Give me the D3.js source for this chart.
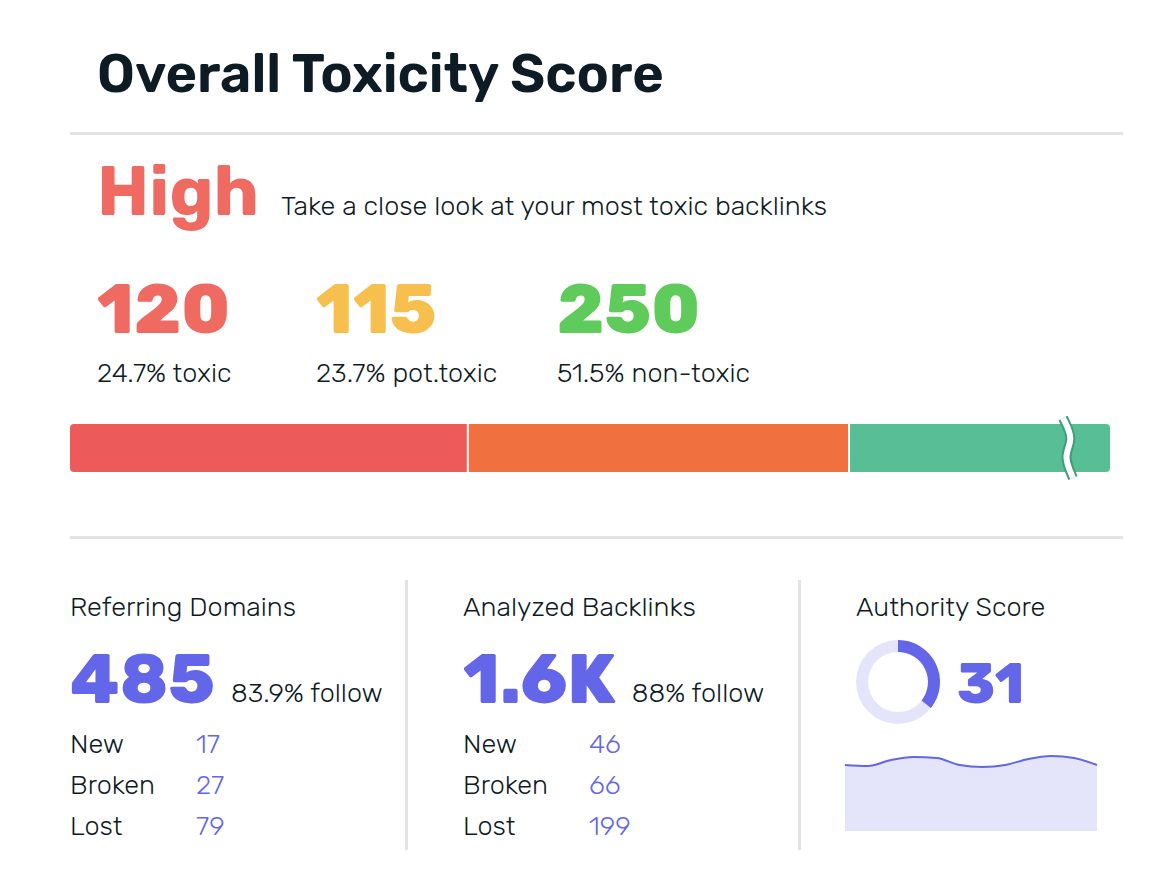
<!DOCTYPE html><html><head><meta charset="utf-8">
<script src="https://cdn.jsdelivr.net/npm/d3@7"></script>
<style>body{margin:0;background:#fff}svg text{font-family:Rubik,Inter,"Noto Sans",sans-serif}</style></head><body>
<svg id="c" width="1161" height="873"></svg>
<script>
const segLabels=["toxic","pot.toxic","non-toxic"];
const segValues=[120,115,250];
const segPct=["24.7%","23.7%","51.5%"];
const segColors=["#ec5a5a","#f07040","#57be96"];
const numColors=["#ef6b62","#f7c04e","#5fcb5b"];
const panelTitles=["Referring Domains","Analyzed Backlinks","Authority Score"];
const panelMain=["485","1.6K"];
const panelFollow=["83.9% follow","88% follow"];
const rowLabels=["New","Broken","Lost"];
const rowValues=[[17,27,79],[46,66,199]];
const authority=31;
const trend=[765,766,760,757,758,765,767,765,759,756,758,765];
const trendIdx=[0,1,2,3,4,5,6,7,8,9,10,11];

const svg=d3.select("#c");
const dark="#0d1b24";
const FS=27;
svg.append("text").attr("x",97).attr("y",92).attr("font-size",54).attr("font-weight",600).attr("fill",dark).text("Overall Toxicity Score");
svg.append("rect").attr("x",70).attr("y",132).attr("width",1053).attr("height",3).attr("fill","#e3e3e3");
svg.append("text").attr("x",97).attr("y",215).attr("font-size",70).attr("font-weight",700).attr("fill","#ef6b62").text("High");
svg.append("text").attr("x",281).attr("y",215).attr("font-size",FS).attr("font-weight",300).attr("fill",dark).text("Take a close look at your most toxic backlinks");
const nx=[97,316,557];
segValues.forEach((v,i)=>{
 svg.append("text").attr("x",nx[i]).attr("y",333).attr("font-size",70).attr("font-weight",800).attr("fill",numColors[i]).text(v);
 svg.append("text").attr("x",nx[i]).attr("y",382).attr("font-size",FS).attr("font-weight",300).attr("fill",dark).text(segPct[i]+" "+segLabels[i]);
});
const x=d3.scaleLinear().domain([0,segValues[0]+segValues[1]]).range([70,849]);
let acc=0;const g=svg.append("g");
svg.append("clipPath").attr("id","bc").append("rect").attr("x",70).attr("y",424).attr("width",1040).attr("height",48).attr("rx",4);
const gb=g.append("g").attr("clip-path","url(#bc)");
segValues.forEach((v,i)=>{
 const x0=x(acc);acc+=v;
 const x1=i===2?1110:x(acc);
 gb.append("rect").attr("x",x0+(i?1:0)).attr("y",424).attr("width",x1-x0-(i<2?1:0)-(i?1:0)).attr("height",48).attr("fill",segColors[i]);
});
const br=d3.line().curve(d3.curveBasis);
const pts=[[1063,418],[1074,440],[1063,455],[1073,478]];
g.append("path").attr("d",br(pts)).attr("stroke","#3e9e7c").attr("stroke-width",10).attr("fill","none");
g.append("path").attr("d",br(pts)).attr("stroke","#fff").attr("stroke-width",6).attr("fill","none");
svg.append("rect").attr("x",70).attr("y",536).attr("width",1053).attr("height",3).attr("fill","#e3e3e3");
const px=[70,463,856];
[405,798].forEach(v=>svg.append("rect").attr("x",v).attr("y",580).attr("width",3).attr("height",270).attr("fill","#e3e3e3"));
panelTitles.forEach((t,i)=>svg.append("text").attr("x",px[i]).attr("y",616).attr("font-size",FS).attr("font-weight",300).attr("fill",dark).text(t));
const purple="#6366e8";
panelMain.forEach((m,i)=>{
 const t=svg.append("text").attr("x",px[i]).attr("y",703).attr("font-size",70).attr("font-weight",800).attr("fill",purple).text(m);
 const w=t.node().getComputedTextLength();
 svg.append("text").attr("x",px[i]+w+16).attr("y",702).attr("font-size",FS).attr("font-weight",300).attr("fill",dark).text(panelFollow[i]);
 rowLabels.forEach((r,j)=>{
  svg.append("text").attr("x",px[i]).attr("y",753+j*41).attr("font-size",FS).attr("font-weight",300).attr("fill",dark).text(r);
  svg.append("text").attr("x",px[i]+126).attr("y",753+j*41).attr("font-size",FS).attr("font-weight",300).attr("fill",purple).text(rowValues[i][j]);
 });
});
const arc=d3.arc().innerRadius(30).outerRadius(42);
const dg=svg.append("g").attr("transform","translate(898,682)");
dg.append("path").attr("d",arc({startAngle:0,endAngle:2*Math.PI})).attr("fill","#e4e5fa");
dg.append("path").attr("d",arc({startAngle:0,endAngle:2*Math.PI*authority/100*1.15})).attr("fill",purple);
svg.append("text").attr("x",957).attr("y",703).attr("font-size",56).attr("font-weight",800).attr("fill",purple).text(authority);
const ax=d3.scaleLinear().domain([0,11]).range([845,1097]);
const area=d3.area().x(d=>ax(d)).y0(831).y1((d,i)=>trend[i]).curve(d3.curveMonotoneX);
const line=d3.line().x(d=>ax(d)).y((d,i)=>trend[i]).curve(d3.curveMonotoneX);
svg.append("path").attr("d",area(trendIdx)).attr("fill","#e4e5fa");
svg.append("path").attr("d",line(trendIdx)).attr("fill","none").attr("stroke",purple).attr("stroke-width",2);
</script></body></html>
